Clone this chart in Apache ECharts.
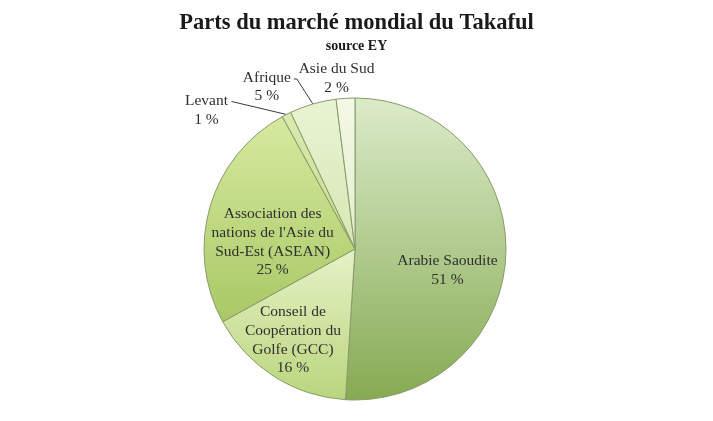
<!DOCTYPE html>
<html>
<head>
<meta charset="utf-8">
<script src="https://cdn.jsdelivr.net/npm/echarts@6/dist/echarts.min.js"></script>
<style>
html,body{margin:0;padding:0;background:#fff;}
#c{width:713px;height:421px;}
</style>
</head>
<body>
<div id="c"></div>
<script>
var titleText = 'Parts du marché mondial du Takaful';
var subtitleText = 'source EY';
var categories = [
  'Arabie Saoudite',
  'Conseil de\nCoopération du\nGolfe (GCC)',
  'Association des\nnations de l\'Asie du\nSud-Est (ASEAN)',
  'Levant',
  'Afrique',
  'Asie du Sud'
];
var shares = [51, 16, 25, 1, 5, 2];
var topColors = ['#dbebc9', '#e6f2c6', '#d6ea9f', '#d9ebb0', '#e9f3d3', '#f3f8e6'];
var bottomColors = ['#86aa52', '#b9d57c', '#a9c865', '#c6df8a', '#d6e8b2', '#e3efcb'];

// label offsets (px) relative to library's default label anchor
var insideShift = {0: [14, 19], 1: [-20, 25], 2: [-7, 15]};
var outsideShift = {3: [-80, -4], 4: [-46, -17], 5: [-9, -20]};
var lineBend = {3: [[-55, -13]], 4: [[-16, -25], [-19, -25]]};

var FONT = '"Liberation Serif", "DejaVu Serif", serif';

var data = categories.map(function (name, i) {
  var outside = i >= 3;
  return {
    name: name,
    value: shares[i],
    itemStyle: {
      color: {
        type: 'linear', x: 0, y: 0, x2: 0, y2: 1,
        colorStops: [{offset: 0, color: topColors[i]}, {offset: 1, color: bottomColors[i]}]
      }
    },
    label: {position: outside ? 'outside' : 'inside'},
    labelLine: {show: outside && i !== 5}
  };
});

var chart = echarts.init(document.getElementById('c'), null, {renderer: 'canvas'});
chart.setOption({
  backgroundColor: '#ffffff',
  animation: false,
  title: {
    text: titleText,
    subtext: subtitleText,
    left: 'center',
    top: 7,
    itemGap: 4,
    textStyle: {fontFamily: FONT, fontWeight: 'bold', fontSize: 22.5, color: '#1a1a1a'},
    subtextStyle: {fontFamily: FONT, fontWeight: 'bold', fontSize: 14, color: '#1a1a1a'}
  },
  series: [{
    type: 'pie',
    center: [355, 249],
    radius: [0, 151],
    startAngle: 90,
    clockwise: true,
    avoidLabelOverlap: false,
    data: data,
    itemStyle: {borderColor: '#889a6c', borderWidth: 1},
    label: {
      formatter: '{b}\n{c} %',
      fontFamily: FONT,
      fontSize: 15.5,
      lineHeight: 18.7,
      color: '#2f2f2f',
      align: 'center'
    },
    labelLine: {lineStyle: {color: '#3a3a3a', width: 1}, length: 10, length2: 10},
    labelLayout: function (p) {
      var i = p.dataIndex;
      if (insideShift[i]) {
        return {dx: insideShift[i][0], dy: insideShift[i][1], align: 'center'};
      }
      var p0 = p.labelLinePoints ? p.labelLinePoints[0] : null;
      if (!p0) return {};
      var s = outsideShift[i];
      var res = {x: p0[0] + s[0], y: p0[1] + s[1], align: 'center', verticalAlign: 'middle'};
      if (lineBend[i]) {
        var pts = [[p0[0], p0[1]]];
        lineBend[i].forEach(function (b) { pts.push([p0[0] + b[0], p0[1] + b[1]]); });
        if (pts.length === 2) pts.push(pts[1].slice());
        res.labelLinePoints = pts;
      }
      return res;
    }
  }]
});
</script>
</body>
</html>
